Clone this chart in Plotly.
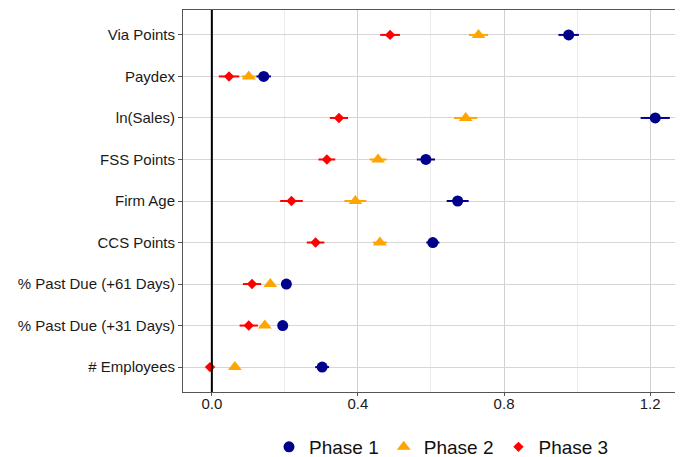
import plotly.graph_objects as go

categories = ["# Employees", "% Past Due (+31 Days)", "% Past Due (+61 Days)", "CCS Points",
              "Firm Age", "FSS Points", "ln(Sales)", "Paydex", "Via Points"]

phase1 = [0.302, 0.194, 0.204, 0.605, 0.673, 0.586, 1.214, 0.142, 0.977]
phase1_err = [0.019, 0.012, 0.010, 0.018, 0.030, 0.025, 0.040, 0.020, 0.028]
phase2 = [0.063, 0.145, 0.160, 0.460, 0.393, 0.455, 0.695, 0.101, 0.730]
phase2_err = [0.006, 0.012, 0.012, 0.019, 0.030, 0.023, 0.032, 0.019, 0.026]
phase3 = [-0.005, 0.101, 0.110, 0.284, 0.218, 0.315, 0.348, 0.047, 0.488]
phase3_err = [0.008, 0.025, 0.025, 0.024, 0.031, 0.023, 0.025, 0.028, 0.027]

x_ticks = [0.0, 0.4, 0.8, 1.2]
x_tick_labels = ["0.0", "0.4", "0.8", "1.2"]

series = [
    ("Phase 1", phase1, phase1_err, "#00008B", "circle", 11),
    ("Phase 2", phase2, phase2_err, "#FFA500", "triangle-up", 12),
    ("Phase 3", phase3, phase3_err, "#FF0000", "diamond", 8),
]

fig = go.Figure()
for name, vals, errs, color, sym, size in series:
    fig.add_trace(go.Scatter(
        x=vals, y=categories, mode="markers", name=name,
        marker=dict(color=color, symbol=sym, size=size, line=dict(width=0)),
        error_x=dict(type="data", array=errs, visible=True, color=color, thickness=2, width=0),
    ))

fig.add_vline(x=0, line=dict(color="black", width=2))

# page body has an 8px default margin; figure is offset by it
fig.update_layout(
    width=675, height=465,
    margin=dict(l=175, r=0, t=2, b=81),
    plot_bgcolor="white", paper_bgcolor="white",
    font=dict(family="Liberation Sans, Arial, sans-serif", size=15, color="#1a1a1a"),
    xaxis=dict(
        range=[-0.079, 1.29], tickvals=x_ticks, ticktext=x_tick_labels,
        showgrid=True, gridcolor="#d0d0d0", gridwidth=1,
        minor=dict(tickvals=[0.2, 0.6, 1.0], showgrid=True, gridcolor="#ebebeb", gridwidth=1),
        zeroline=False, showline=True, linecolor="#555555", linewidth=1, mirror=True,
        ticks="outside", ticklen=3, tickcolor="#555555", tickwidth=1, tickfont=dict(size=15),
        ticklabelstandoff=-5, automargin=False,
    ),
    yaxis=dict(
        categoryorder="array", categoryarray=categories, range=[-0.6, 8.6],
        showgrid=True, gridcolor="#d6d6d6", gridwidth=1,
        zeroline=False, showline=True, linecolor="#555555", linewidth=1, mirror=True,
        ticks="outside", ticklen=4, tickcolor="#555555", tickwidth=1, tickfont=dict(size=15),
        automargin=False,
    ),
    legend=dict(orientation="h", x=0.172, xanchor="left", y=-0.144, yanchor="middle",
                font=dict(size=19, color="#111111"), itemsizing="trace"),
)

fig.write_html("out.html")
